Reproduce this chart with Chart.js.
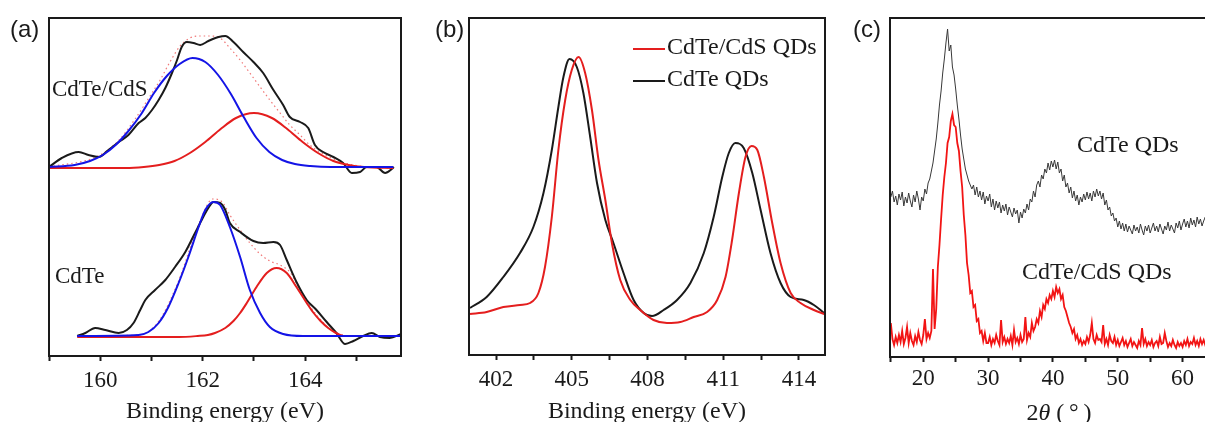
<!DOCTYPE html>
<html>
<head>
<meta charset="utf-8">
<title>CdTe and CdTe/CdS QDs</title>
<script src="https://cdn.jsdelivr.net/npm/chart.js@4.4.1/dist/chart.umd.min.js"></script>
<style>
  html, body { margin: 0; padding: 0; background: #fff; overflow: hidden; }
  #figure { position: relative; width: 1205px; height: 422px; overflow: hidden; }
  #figure canvas { position: absolute; top: 0; }
</style>
</head>
<body>
<div id="figure">
  <canvas id="panelA" width="420" height="422" style="left:0"></canvas>
  <canvas id="panelB" width="420" height="422" style="left:420px"></canvas>
  <canvas id="panelC" width="400" height="422" style="left:840px"></canvas>
</div>
<script>
// === (a) S 2p region, CdTe/CdS (upper set) ===
const shellRawE = [159.0,159.25,159.58,159.77,159.97,160.16,160.36,160.55,160.75,160.88,161.01,161.14,161.27,161.40,161.50,161.59,161.69,161.82,161.95,162.11,162.31,162.44,162.60,162.79,162.99,163.18,163.38,163.57,163.70,163.90,164.06,164.19,164.35,164.55,164.74,164.91,165.07,165.20,165.39,165.56,165.69,165.73];
const shellRawI = [189,198,204,201,199,206,214,221,233,238,246,256,268,283,296,309,314,313,311,315,319,320,314,304,294,283,266,251,239,234,228,211,204,199,193,183,184,189,189,183,187,189];
const shellFit1E = [159.0,159.5,159.8,160.05,160.3,160.55,160.8,161.05,161.3,161.55,161.8,162.05,162.3,162.55,162.8,163.05,163.3,163.55,163.8,164.1,164.5,165.72];
const shellFit1I = [189,191,195,201,211,225,242,263,280,292,298,294,281,262,239,218,204,196,192,190,189,189];
const shellFit2E = [159.0,160.5,160.85,161.15,161.45,161.75,162.05,162.35,162.65,163.0,163.35,163.65,163.95,164.25,164.55,164.85,165.15,165.72];
const shellFit2I = [188,188,189,191,195,203,214,227,238,243,238,227,214,203,195,191,189,188];
const shellSumE = [159.0,159.96,160.35,160.68,161.01,161.17,161.36,161.56,161.75,161.95,162.14,162.34,162.53,162.73,162.92,163.12,163.31,163.51,163.70,163.90,164.09,164.29,164.60,164.93,165.26,165.71];
const shellSumI = [189,200,215,237,263,276,294,310,318,320,320,318,308,296,283,269,256,243,231,221,211,204,196,191,189,188];

// === (a) CdTe (lower set) ===
const coreRawE = [159.55,159.71,159.90,160.10,160.36,160.52,160.65,160.78,160.88,161.07,161.27,161.46,161.66,161.85,161.98,162.11,162.21,162.34,162.44,162.53,162.73,162.99,163.18,163.38,163.51,163.64,163.83,164.03,164.22,164.42,164.61,164.78,164.94,165.13,165.30,165.46,165.65,165.87];
const coreRawI = [20,23,28,26,23,26,33,46,56,66,76,89,104,123,136,148,154,153,146,133,124,115,113,114,111,96,74,56,46,34,23,12,15,20,23,19,18,22];
const coreFit1E = [159.55,160.75,160.94,161.14,161.33,161.53,161.72,161.92,162.05,162.21,162.34,162.53,162.73,162.92,163.12,163.31,163.57,163.96,165.87];
const coreFit1I = [20,21,24,33,49,73,99,129,146,154,151,129,99,66,43,29,22,20,20];
const coreFit2E = [159.55,161.53,161.9,162.1,162.24,162.44,162.60,162.73,162.86,163.05,163.25,163.44,163.64,163.83,164.03,164.15,164.30,164.45,164.6,164.74];
const coreFit2I = [19,19,20,21,23,28,35,43,53,69,83,88,83,69,53,44,35,28,23,20];
const coreSumE = [159.55,160.74,161.13,161.52,161.91,162.20,162.38,162.53,162.73,162.92,163.12,163.31,163.51,163.70,163.90,164.09,164.29,164.48,164.68,164.87,165.87];
const coreSumI = [20,21,34,74,130,157,154,141,126,113,102,95,91,84,66,50,37,27,22,20,20];

// === (b) Cd 3d ===
const cdShellE = [400.97,401.63,402.29,402.95,403.35,403.68,403.94,404.21,404.47,404.74,405.00,405.27,405.53,405.80,406.06,406.33,406.59,406.92,407.32,407.71,408.24,408.77,409.30,409.83,410.36,410.76,411.09,411.35,411.62,411.88,412.12,412.35,412.61,412.94,413.27,413.67,414.06,414.59,415.0];
const cdShellI = [41,43,48,50,52,62,88,138,205,255,285,298,282,245,195,155,112,75,55,45,35,32,33,38,43,55,78,115,162,198,209,205,178,132,92,62,52,45,41];
const cdCoreE = [400.97,401.63,402.29,402.95,403.48,403.88,404.21,404.47,404.67,404.91,405.20,405.46,405.73,406.00,406.33,406.65,407.05,407.45,407.85,408.18,408.64,409.17,409.70,410.23,410.62,410.96,411.22,411.48,411.81,412.15,412.48,412.87,413.27,413.67,414.19,414.59,415.0];
const cdCoreI = [47,58,78,102,128,162,205,248,278,296,288,262,218,172,135,112,82,55,42,39,45,55,72,102,138,178,202,212,207,182,145,102,72,58,55,50,42];

// === (c) XRD, 2theta from 15 to 65 in 0.25 deg steps ===
const xrdStart = 15;
const xrdStep = 0.25;
const xrdCore = [
  160,166,155,161,152,163,157,165,151,160,154,164,156,150,162,155,166,158,147,160,
  156,168,163,174,178,186,194,206,218,234,252,266,284,298,314,328,306,312,290,282,
  268,252,238,222,208,198,188,182,176,172,168,172,162,170,160,166,157,165,153,161,
  156,163,150,158,147,156,149,155,144,152,146,153,142,150,145,140,149,143,147,134,
  145,139,148,144,153,147,158,155,166,160,172,176,170,182,178,188,184,194,187,196,
  190,197,188,195,184,188,176,182,170,174,164,170,159,166,156,162,152,160,155,163,
  157,165,158,164,156,166,160,168,161,166,158,164,152,157,147,150,141,144,136,139,
  130,136,128,134,126,133,125,131,127,123,132,126,130,124,133,127,122,131,126,132,
  124,129,134,126,131,125,133,128,123,131,127,135,126,132,128,124,134,129,136,127,
  133,138,130,136,129,139,132,137,130,140,133,138,131,136,140,133,138,131,137,134,
  139
];
const xrdShell = [
  34,18,12,20,14,22,15,26,13,19,30,14,24,16,12,21,15,25,17,13,
  22,38,18,24,19,26,88,28,48,90,112,138,162,180,194,214,220,236,243,232,
  230,214,206,186,170,142,122,94,82,64,66,50,52,36,38,24,26,16,24,14,
  14,20,12,18,14,22,16,12,37,15,20,13,18,14,21,12,27,15,19,13,
  22,15,18,40,17,24,20,34,26,30,38,34,46,40,52,48,58,54,62,58,
  66,60,70,64,68,58,62,50,46,40,34,30,24,28,18,22,14,18,12,16,
  13,20,15,22,34,18,14,22,17,18,15,32,13,18,12,22,16,14,20,12,
  17,11,15,19,12,16,10,14,18,11,15,12,9,16,12,29,13,18,11,15,
  12,17,10,14,16,11,20,13,14,24,16,10,14,11,17,12,9,15,11,14,
  10,16,12,18,11,15,13,19,12,16,11,18,13,17,12,16,14,19,13,17,
  15
];

const INK = "#1a1a1a";
const RED = "#e41e1e";
const BLUE = "#1414e6";
const SERIF = "'Liberation Serif', 'Times New Roman', serif";
const SANS = "'Liberation Sans', Arial, sans-serif";

function points(xs, ys) {
  return xs.map((x, i) => ({ x: x, y: ys[i] }));
}

function curve(xs, ys, color, width, extra) {
  return Object.assign({
    data: points(xs, ys),
    borderColor: color,
    borderWidth: width,
    pointRadius: 0,
    fill: false,
    cubicInterpolationMode: "monotone"
  }, extra || {});
}

// frame, panel tag, in-plot notes and the small legend
const panelDecor = {
  id: "panelDecor",
  afterDraw(chart, args, opts) {
    const ctx = chart.ctx;
    const a = chart.chartArea;
    ctx.save();
    ctx.strokeStyle = INK;
    ctx.lineWidth = 2;
    ctx.strokeRect(a.left, a.top, a.right - a.left, a.bottom - a.top);

    ctx.fillStyle = INK;
    ctx.textAlign = "left";
    ctx.textBaseline = "alphabetic";
    ctx.font = "24px " + SANS;
    ctx.fillText(opts.tag, opts.tagX, 37);

    (opts.notes || []).forEach(n => {
      ctx.font = (n.size || 23) + "px " + SERIF;
      ctx.fillText(n.text, n.x, n.y);
    });
    ctx.font = "24px " + SERIF;
    (opts.keys || []).forEach(k => {
      ctx.strokeStyle = k.color;
      ctx.lineWidth = 2;
      ctx.beginPath();
      ctx.moveTo(k.x, k.y);
      ctx.lineTo(k.x + 32, k.y);
      ctx.stroke();
      ctx.fillText(k.text, k.x + 34, k.y + 5);
    });

    // axis title built from pieces (italic theta)
    if (opts.titleParts) {
      const fontFor = p => (p.italic ? "italic " : "") + "24px " + SERIF;
      let total = 0;
      opts.titleParts.forEach(p => { ctx.font = fontFor(p); total += ctx.measureText(p.text).width; });
      let x = opts.titleX - total / 2;
      opts.titleParts.forEach(p => {
        ctx.font = fontFor(p);
        ctx.fillText(p.text, x, opts.titleY);
        x += ctx.measureText(p.text).width;
      });
    }
    ctx.restore();
  }
};
Chart.register(panelDecor);

function bottomAxis(min, max, step, first, every, height, pad, title) {
  return {
    type: "linear",
    min: min,
    max: max,
    afterFit(scale) { scale.height = height; },
    border: { display: false },
    grid: { drawOnChartArea: false, drawTicks: true, tickLength: 5, tickWidth: 2, tickColor: INK },
    ticks: {
      stepSize: step,
      includeBounds: false,
      autoSkip: false,
      maxRotation: 0,
      padding: pad,
      color: INK,
      font: { family: SERIF, size: 23 },
      callback: v => {
        const k = (v - first) / every;
        return Math.abs(k - Math.round(k)) < 1e-6 ? String(Math.round(v * 10) / 10) : "";
      }
    },
    title: {
      display: !!title,
      text: title || "",
      color: INK,
      font: { family: SERIF, size: 24 },
      padding: { top: 0, bottom: -4 }
    }
  };
}

function baseOptions(pad, xScale, yMax, decor) {
  return {
    responsive: false,
    animation: false,
    events: [],
    layout: { padding: pad },
    scales: {
      x: xScale,
      y: { display: false, min: 0, max: yMax }
    },
    plugins: {
      legend: { display: false },
      tooltip: { enabled: false },
      panelDecor: decor
    }
  };
}

// (a) S 2p fits
new Chart(document.getElementById("panelA"), {
  type: "line",
  data: {
    datasets: [
      curve(shellFit1E, shellFit1I, BLUE, 2),
      curve(shellFit2E, shellFit2I, RED, 2),
      curve(shellRawE, shellRawI, INK, 2),
      curve(shellSumE, shellSumI, "#f07878", 1.2, { borderDash: [1.5, 3] }),
      curve(coreFit1E, coreFit1I, BLUE, 2),
      curve(coreFit2E, coreFit2I, RED, 2),
      curve(coreRawE, coreRawI, INK, 2),
      curve(coreSumE, coreSumI, "#f07878", 1.2, { borderDash: [1.5, 3] })
    ]
  },
  options: baseOptions(
    { left: 49, right: 19, top: 18, bottom: 0 },
    bottomAxis(159, 165.87, 1, 160, 2, 66, 6, "Binding energy (eV)"),
    338,
    {
      tag: "(a)", tagX: 10,
      notes: [
        { text: "CdTe/CdS", x: 52, y: 96 },
        { text: "CdTe", x: 55, y: 283 }
      ]
    }
  )
});

// (b) Cd 3d
new Chart(document.getElementById("panelB"), {
  type: "line",
  data: {
    datasets: [
      curve(cdShellE, cdShellI, RED, 2),
      curve(cdCoreE, cdCoreI, INK, 2)
    ]
  },
  options: baseOptions(
    { left: 49, right: 15, top: 18, bottom: 0 },
    bottomAxis(400.93, 415.03, 1.5, 402, 3, 67, 6, "Binding energy (eV)"),
    337,
    {
      tag: "(b)", tagX: 15,
      keys: [
        { text: "CdTe/CdS QDs", color: RED, x: 213, y: 49 },
        { text: "CdTe QDs", color: INK, x: 213, y: 81 }
      ]
    }
  )
});

// (c) XRD patterns
new Chart(document.getElementById("panelC"), {
  type: "line",
  data: {
    datasets: [
      curve(xrdCore.map((v, i) => xrdStart + i * xrdStep), xrdCore, "#383838", 1, { cubicInterpolationMode: "default", tension: 0 }),
      curve(xrdShell.map((v, i) => xrdStart + i * xrdStep), xrdShell, "#f21414", 1.8, { cubicInterpolationMode: "default", tension: 0 })
    ]
  },
  options: baseOptions(
    { left: 50, right: 25, top: 18, bottom: 0 },
    bottomAxis(14.87, 65, 5, 20, 10, 65, 3, ""),
    339,
    {
      tag: "(c)", tagX: 13,
      notes: [
        { text: "CdTe QDs", x: 237, y: 152, size: 24 },
        { text: "CdTe/CdS QDs", x: 182, y: 279, size: 24 }
      ],
      titleParts: [
        { text: "2" },
        { text: "\u03b8", italic: true },
        { text: " (\u2009\u00b0\u2009)" }
      ],
      titleX: 219,
      titleY: 420
    }
  )
});
</script>
</body>
</html>
